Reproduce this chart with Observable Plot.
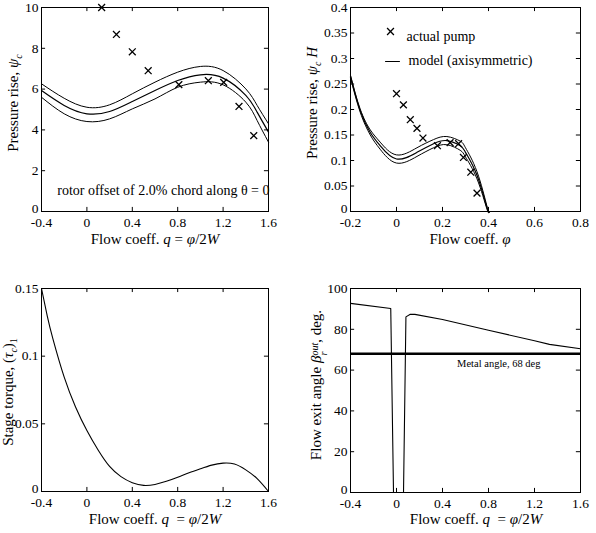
<!DOCTYPE html>
<html><head><meta charset="utf-8">
<script src="https://cdn.jsdelivr.net/npm/d3@7"></script>
<script src="https://cdn.jsdelivr.net/npm/@observablehq/plot@0.6"></script>
<style>
body{margin:0;background:#fff;}
#fig{position:relative;width:596px;height:533px;font-family:"Liberation Serif",serif;color:#000;overflow:hidden;}
#fig > .p{position:absolute;}
#fig svg, #fig svg text{font-family:"Liberation Serif",serif !important;}
.lab{position:absolute;font-size:15px;white-space:nowrap;transform:translate(-50%,-50%);line-height:1;}
.ylab{transform:translate(-50%,-50%) rotate(-90deg);}
.lab sub{font-size:10px;vertical-align:-4px;}
.stk{display:inline-block;vertical-align:-6px;line-height:9px;font-size:10px;font-style:italic;text-align:left;}
.stk span{display:block;}
</style></head><body><div id="fig"></div>
<script>
// ---------- data ----------
// Panel A: pressure rise vs q
const qModelA = [-0.4, -0.2, 0, 0.2, 0.4, 0.6, 0.8, 1.0, 1.2, 1.4, 1.5, 1.6];
const psiMidA = [5.93, 5.20, 4.79, 4.90, 5.39, 5.93, 6.42, 6.70, 6.54, 5.69, 4.87, 3.89];
const psiUpA  = [6.26, 5.55, 5.11, 5.23, 5.77, 6.34, 6.83, 7.11, 6.91, 6.01, 5.20, 4.30];
const psiLoA  = [5.60, 4.79, 4.41, 4.54, 5.03, 5.52, 6.09, 6.34, 6.21, 5.36, 4.46, 3.40];
const qPumpA  = [0.13, 0.26, 0.40, 0.54, 0.81, 1.07, 1.205, 1.34, 1.47];
const psiPumpA = [10.0, 8.68, 7.83, 6.90, 6.22, 6.41, 6.33, 5.15, 3.72];

// Panel B: pressure rise vs phi
const phiModelB = [-0.2, -0.158, -0.114, -0.071, 0, 0.089, 0.161, 0.219, 0.277, 0.3, 0.35, 0.393, 0.404];
const hMidB = [0.265, 0.198, 0.155, 0.129, 0.103, 0.116, 0.133, 0.139, 0.129, 0.116, 0.071, 0.008, 0];
const hUpB  = [0.267, 0.201, 0.160, 0.136, 0.111, 0.125, 0.141, 0.147, 0.138, 0.125, 0.078, 0.011, 0];
const hLoB  = [0.262, 0.195, 0.150, 0.122, 0.095, 0.108, 0.125, 0.131, 0.120, 0.107, 0.064, 0.005, 0];
const phiPumpB = [0.0, 0.030, 0.060, 0.089, 0.115, 0.178, 0.233, 0.270, 0.291, 0.323, 0.350];
const hPumpB   = [0.231, 0.209, 0.180, 0.163, 0.144, 0.129, 0.135, 0.133, 0.106, 0.077, 0.036];

// Panel C: stage torque vs q
const qC   = [-0.4, -0.35, -0.3, -0.2, -0.1, 0, 0.1, 0.2, 0.3, 0.4, 0.5, 0.6, 0.7, 0.8, 0.9, 1.0, 1.1, 1.2, 1.3, 1.4, 1.5, 1.6];
const tauC = [0.150, 0.130, 0.113, 0.0845, 0.0625, 0.045, 0.0305, 0.0185, 0.011, 0.0065, 0.0045, 0.0052, 0.0075, 0.0105, 0.0138, 0.0168, 0.0195, 0.021, 0.0203, 0.016, 0.0095, 0.0];

// Panel D: flow exit angle vs q
const qD    = [-0.4, -0.05, -0.026, 0.061, 0.082, 0.12, 0.16, 0.4, 0.8, 1.2, 1.33, 1.6];
const betaD = [92.7, 90.2, 0, 0, 86.1, 87.4, 87.3, 84.8, 79.5, 74.4, 72.6, 70.5];
const metalAngle = [68];

// tick values
const xTicksQ = [-0.4, 0, 0.4, 0.8, 1.2, 1.6];
const yTicksA = [0, 2, 4, 6, 8, 10];
const xTicksB = [-0.2, 0, 0.2, 0.4, 0.6, 0.8];
const yTicksB = [0, 0.05, 0.1, 0.15, 0.2, 0.25, 0.3, 0.35, 0.4];
const yTicksC = [0, 0.05, 0.1, 0.15];
const yTicksD = [0, 20, 40, 60, 80, 100];

// text
const annotA = "rotor offset of 2.0% chord along θ = 0";
const legendB = ["actual pump", "model (axisymmetric)"];
const metalLabel = "Metal angle, 68 deg";

// ---------- helpers ----------
const fig = document.getElementById("fig");
const fmt = d => String(d);
const FF = '"Liberation Serif", serif';
const font = {fontFamily: FF, fontSize: "14px", color: "black", background: "transparent", overflow: "visible"};

function inner(xt, yt, xd, yd) {
  const ty = (yd[1] - yd[0]) * 0.02, tx = (xd[1] - xd[0]) * 0.018;
  const yFirst = yt.filter(d => d === yd[0]), yRest = yt.filter(d => d !== yd[0]);
  return [
    Plot.ruleX(xt, {x: d => d, y1: yd[0], y2: yd[0] + ty, stroke: "black"}),
    Plot.ruleX(xt, {x: d => d, y1: yd[1], y2: yd[1] - ty, stroke: "black"}),
    Plot.ruleY(yt, {y: d => d, x1: xd[0], x2: xd[0] + tx, stroke: "black"}),
    Plot.ruleY(yt, {y: d => d, x1: xd[1], x2: xd[1] - tx, stroke: "black"}),
    Plot.axisX(xt, {tickSize: 0, tickPadding: 6, tickFormat: fmt, label: null, fontSize: 13.5, fontFamily: FF}),
    Plot.axisY(yRest, {tickSize: 0, tickPadding: 3, tickFormat: fmt, label: null, fontSize: 13.5, fontFamily: FF}),
    Plot.axisY(yFirst, {tickSize: 0, tickPadding: 3, tickFormat: fmt, label: null, fontSize: 13.5, fontFamily: FF, dy: -3}),
    Plot.frame({stroke: "black", strokeWidth: 1})
  ];
}
function place(svg, left, top) {
  const d = document.createElement("div");
  d.className = "p"; d.style.left = left + "px"; d.style.top = top + "px";
  d.appendChild(svg); fig.appendChild(d);
}
function label(html, x, y, rot) {
  const d = document.createElement("div");
  d.className = "lab" + (rot ? " ylab" : "");
  d.style.left = x + "px"; d.style.top = y + "px";
  d.innerHTML = html; fig.appendChild(d);
}

// ---------- Panel A ----------
const dA = qModelA.map((q, i) => ({q, mid: psiMidA[i], up: psiUpA[i], lo: psiLoA[i]}));
const pA = qPumpA.map((q, i) => ({q, psi: psiPumpA[i]}));
const xdA = [-0.4, 1.6], ydA = [0, 10];
place(Plot.plot({
  width: 298, height: 260, marginLeft: 41, marginRight: 30, marginTop: 7, marginBottom: 49,
  style: font,
  x: {domain: xdA}, y: {domain: ydA},
  marks: [
    Plot.line(dA, {x: "q", y: "up", curve: "natural", stroke: "black", strokeWidth: 1}),
    Plot.line(dA, {x: "q", y: "mid", curve: "natural", stroke: "black", strokeWidth: 1.2}),
    Plot.line(dA, {x: "q", y: "lo", curve: "natural", stroke: "black", strokeWidth: 1}),
    Plot.dot(pA, {x: "q", y: "psi", symbol: "times", r: 3.2, stroke: "black", strokeWidth: 1.3}),
    Plot.text([annotA], {text: d => d, frameAnchor: "bottom-right", textAnchor: "end", dx: 1, dy: -17, fontSize: 14, fontFamily: FF}),
    ...inner(xTicksQ, yTicksA, xdA, ydA)
  ]
}), 0, 0);

// ---------- Panel B ----------
const dB = phiModelB.map((p, i) => ({p, mid: hMidB[i], up: hUpB[i], lo: hLoB[i]}));
const pB = phiPumpB.map((p, i) => ({p, h: hPumpB[i]}));
const xdB = [-0.2, 0.8], ydB = [0, 0.4];
place(Plot.plot({
  width: 298, height: 260, marginLeft: 52, marginRight: 16, marginTop: 7, marginBottom: 49,
  style: font,
  x: {domain: xdB}, y: {domain: ydB},
  marks: [
    Plot.line(dB, {x: "p", y: "up", curve: "natural", stroke: "black", strokeWidth: 1}),
    Plot.line(dB, {x: "p", y: "mid", curve: "natural", stroke: "black", strokeWidth: 1.2}),
    Plot.line(dB, {x: "p", y: "lo", curve: "natural", stroke: "black", strokeWidth: 1}),
    Plot.dot(pB, {x: "p", y: "h", symbol: "times", r: 3.2, stroke: "black", strokeWidth: 1.3}),
    Plot.dot([legendB[0]], {frameAnchor: "top-left", dx: 40, dy: 24, symbol: "times", r: 3.2, stroke: "black", strokeWidth: 1.3}),
    Plot.text([legendB[0]], {text: d => d, frameAnchor: "top-left", textAnchor: "start", dx: 56, dy: 24, fontSize: 14, fontFamily: FF}),
    Plot.vector([legendB[1]], {frameAnchor: "top-left", dx: 35, dy: 54, length: 14, rotate: 90, anchor: "start", stroke: "black", strokeWidth: 1,
      shape: {draw(c, l) { c.moveTo(0, 0); c.lineTo(0, -l); }}}),
    Plot.text([legendB[1]], {text: d => d, frameAnchor: "top-left", textAnchor: "start", dx: 58, dy: 48, fontSize: 14, fontFamily: FF}),
    ...inner(xTicksB, yTicksB, xdB, ydB)
  ]
}), 298, 0);

// ---------- Panel C ----------
const dC = qC.map((q, i) => ({q, t: tauC[i]}));
const xdC = [-0.4, 1.6], ydC = [0, 0.15];
place(Plot.plot({
  width: 298, height: 273, marginLeft: 41, marginRight: 30, marginTop: 28, marginBottom: 42,
  style: font,
  x: {domain: xdC}, y: {domain: ydC},
  marks: [
    Plot.line(dC, {x: "q", y: "t", curve: "natural", stroke: "black", strokeWidth: 1.1}),
    ...inner(xTicksQ, yTicksC, xdC, ydC)
  ]
}), 0, 260);

// ---------- Panel D ----------
const dD = qD.map((q, i) => ({q, b: betaD[i]}));
const xdD = [-0.4, 1.6], ydD = [0, 100];
place(Plot.plot({
  width: 298, height: 273, marginLeft: 52, marginRight: 16, marginTop: 28, marginBottom: 41,
  style: font,
  x: {domain: xdD}, y: {domain: ydD},
  marks: [
    Plot.ruleY(metalAngle, {y: d => d, stroke: "black", strokeWidth: 2.5}),
    Plot.line(dD, {x: "q", y: "b", stroke: "black", strokeWidth: 1.1}),
    Plot.text(metalAngle, {y: d => d, text: () => metalLabel, frameAnchor: "right", textAnchor: "end", dx: -40, dy: 10, fontSize: 10.5, fontFamily: FF}),
    ...inner(xTicksQ, yTicksD, xdD, ydD)
  ]
}), 298, 260);

// ---------- axis titles ----------
const xq = 'Flow coeff. <i>q</i> = <i>φ</i>/2<i>W</i>';
const xq2 = 'Flow coeff. <i>q</i> &nbsp;= <i>φ</i>/2<i>W</i>';
label(xq, 155, 239);
label('Flow coeff. <i>φ</i>', 470, 239);
label(xq2, 155, 519);
label(xq2, 476, 519);
label('Pressure rise, <i>ψ</i><sub><i>c</i></sub>', 15, 103, true);
label('Pressure rise, <i>ψ</i><sub><i>c</i></sub> <i>H</i>', 314, 103, true);
label('Stage torque, (<i>τ</i><sub><i>c</i></sub>)<sub>1</sub>', 10, 392, true);
label('Flow exit angle <i>β</i><span class="stk"><span>out</span><span>r</span></span>, deg.', 318, 385, true);
</script></body></html>
